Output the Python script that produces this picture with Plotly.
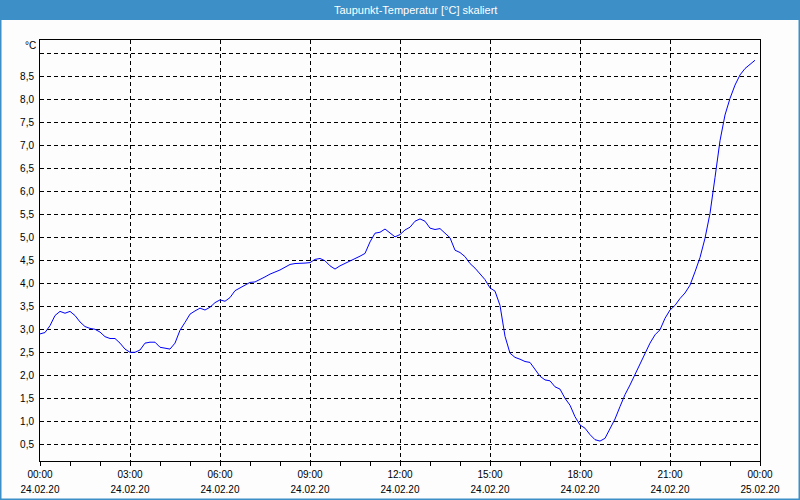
import plotly.graph_objects as go
import pandas as pd

# Dew point temperature readings, every 10 minutes starting 24.02.20 00:00
start_time = "2020-02-24 00:00"
step = "10min"
temperature = [
    2.90, 2.93, 3.08, 3.30, 3.39, 3.35, 3.39, 3.30, 3.16, 3.06,
    3.02, 3.00, 2.94, 2.84, 2.80, 2.80, 2.70, 2.57, 2.50, 2.50,
    2.55, 2.70, 2.72, 2.72, 2.61, 2.59, 2.57, 2.70, 2.98, 3.15,
    3.33, 3.40, 3.46, 3.42, 3.48, 3.58, 3.64, 3.61, 3.69, 3.84,
    3.90, 3.96, 4.02, 4.03, 4.08, 4.14, 4.20, 4.24, 4.29, 4.35,
    4.41, 4.43, 4.43, 4.44, 4.45, 4.52, 4.54, 4.49, 4.38, 4.31,
    4.38, 4.43, 4.49, 4.54, 4.59, 4.65, 4.90, 5.09, 5.11, 5.18,
    5.09, 5.01, 5.06, 5.16, 5.22, 5.35, 5.40, 5.35, 5.20, 5.17,
    5.19, 5.09, 4.99, 4.72, 4.67, 4.58, 4.43, 4.33, 4.20, 4.08,
    3.90, 3.83, 3.52, 2.85, 2.48, 2.39, 2.35, 2.30, 2.28, 2.14,
    1.98, 1.90, 1.88, 1.75, 1.70, 1.50, 1.35, 1.10, 0.92, 0.85,
    0.71, 0.60, 0.57, 0.63, 0.84, 1.05, 1.32, 1.58, 1.79, 2.01,
    2.26, 2.48, 2.70, 2.88, 2.99, 3.24, 3.42, 3.52, 3.67, 3.79,
    3.96, 4.25, 4.56, 4.98, 5.52, 6.30, 7.10, 7.66, 8.02, 8.31,
    8.53, 8.67, 8.77, 8.85,
]

x_tick_times = [
    "2020-02-24 00:00", "2020-02-24 03:00", "2020-02-24 06:00",
    "2020-02-24 09:00", "2020-02-24 12:00", "2020-02-24 15:00",
    "2020-02-24 18:00", "2020-02-24 21:00", "2020-02-25 00:00",
]
x_tick_hours = ["00:00", "03:00", "06:00", "09:00", "12:00",
                "15:00", "18:00", "21:00", "00:00"]
x_tick_dates = ["24.02.20", "24.02.20", "24.02.20", "24.02.20", "24.02.20",
                "24.02.20", "24.02.20", "24.02.20", "25.02.20"]
y_tick_values = [0.5, 1.0, 1.5, 2.0, 2.5, 3.0, 3.5, 4.0, 4.5,
                 5.0, 5.5, 6.0, 6.5, 7.0, 7.5, 8.0, 8.5, 9.0]
y_tick_labels = ["0,5", "1,0", "1,5", "2,0", "2,5", "3,0", "3,5", "4,0", "4,5",
                 "5,0", "5,5", "6,0", "6,5", "7,0", "7,5", "8,0", "8,5", ""]

title_text = "Taupunkt-Temperatur [°C] skaliert"
unit_text = "°C"

times = pd.date_range(start_time, periods=len(temperature), freq=step)

W, H = 800, 500
ML, MR, MT, MB = 40, 40, 40, 39
PW, PH = W - ML - MR, H - MT - MB

def px_x(px):
    return (px - ML) / PW

def px_y(py):
    return (H - MB - py) / PH

blue = "#3d8fc7"
font_family = "Liberation Sans, Arial, sans-serif"

fig = go.Figure()
fig.add_trace(go.Scatter(
    x=times, y=temperature, mode="lines",
    line=dict(color="#0000ff", width=1),
    hoverinfo="x+y", showlegend=False,
))
# invisible companion trace so that the date-label axis is drawn
fig.add_trace(go.Scatter(
    x=times, y=temperature, mode="lines", xaxis="x2",
    line=dict(color="rgba(0,0,0,0)", width=1),
    hoverinfo="skip", showlegend=False,
))

shapes = [
    dict(type="rect", xref="paper", yref="paper",
         x0=px_x(0), x1=px_x(W), y0=px_y(20), y1=px_y(0),
         fillcolor=blue, line=dict(width=0), layer="below"),
    dict(type="line", xref="paper", yref="paper",
         x0=px_x(0.75), x1=px_x(0.75), y0=px_y(0), y1=px_y(H),
         line=dict(color=blue, width=1.5)),
    dict(type="line", xref="paper", yref="paper",
         x0=px_x(W - 0.75), x1=px_x(W - 0.75), y0=px_y(0), y1=px_y(H),
         line=dict(color=blue, width=1.5)),
    dict(type="line", xref="paper", yref="paper",
         x0=px_x(0), x1=px_x(W), y0=px_y(H - 0.75), y1=px_y(H - 0.75),
         line=dict(color=blue, width=1.5)),
]

annotations = [
    dict(text=title_text, xref="paper", yref="paper",
         x=px_x(415), y=px_y(10), xanchor="center", yanchor="middle",
         showarrow=False, font=dict(color="white", size=11, family=font_family)),
    dict(text=unit_text, xref="paper", yref="paper",
         x=px_x(38), y=px_y(45), xanchor="right", yanchor="middle",
         showarrow=False, font=dict(color="black", size=10, family=font_family)),
]

fig.update_layout(
    width=W, height=H,
    margin=dict(l=ML, r=MR, t=MT, b=MB, pad=0, autoexpand=False),
    paper_bgcolor="#fcfdfc",
    plot_bgcolor="#fcfdfc",
    font=dict(family=font_family, size=10, color="black"),
    shapes=shapes,
    annotations=annotations,
    showlegend=False,
)

fig.update_layout(
    xaxis=dict(
        type="date",
        range=[x_tick_times[0], x_tick_times[-1]],
        tickvals=x_tick_times, ticktext=x_tick_hours,
        showgrid=True, gridcolor="black", gridwidth=1, griddash="4px,3px",
        showline=True, linecolor="black", linewidth=1, mirror=True,
        ticks="outside", ticklen=4, tickcolor="black", ticklabelstandoff=0,
        minor=dict(dtick=3600000, ticks="outside", ticklen=4, tickcolor="black", showgrid=False),
        zeroline=False, fixedrange=True, automargin=False,
    ),
    xaxis2=dict(
        type="date", overlaying="x", side="bottom", anchor="y",
        range=[x_tick_times[0], x_tick_times[-1]],
        tickvals=x_tick_times, ticktext=x_tick_dates,
        showgrid=False, showline=False, zeroline=False,
        ticks="outside", ticklen=4, tickcolor="rgba(0,0,0,0)", ticklabelstandoff=15,
        fixedrange=True, automargin=False,
    ),
    yaxis=dict(
        range=[0.137, 9.29],
        tickvals=y_tick_values, ticktext=y_tick_labels,
        showgrid=True, gridcolor="black", gridwidth=1, griddash="4px,3px",
        showline=True, linecolor="black", linewidth=1, mirror=True,
        ticks="", ticklabelstandoff=3,
        zeroline=False, fixedrange=True, automargin=False,
    ),
)

fig.write_html("out.html", config={"displayModeBar": False},
               post_script="document.body.style.margin='0';document.body.style.padding='0';")
